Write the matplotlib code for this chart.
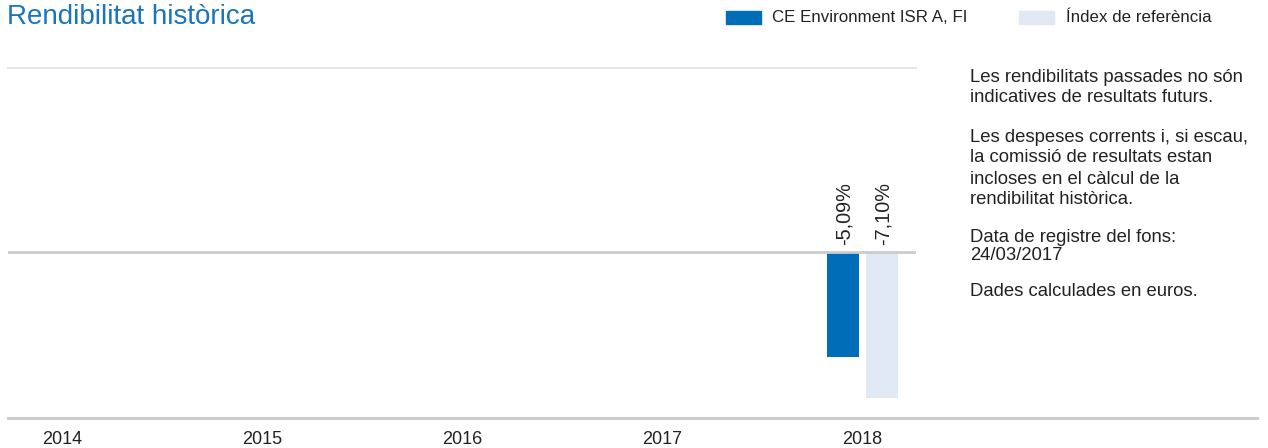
import matplotlib
matplotlib.use("Agg")
import matplotlib.pyplot as plt
from matplotlib.lines import Line2D
from matplotlib.patches import Rectangle
import numpy as np

plt.rcParams['font.family'] = ['Liberation Sans', 'DejaVu Sans']

years = ["2014", "2015", "2016", "2017", "2018"]
fund_name = "CE Environment ISR A, FI"
index_name = "Índex de referència"
fund_values = [None, None, None, None, -5.09]
index_values = [None, None, None, None, -7.10]
title = "Rendibilitat històrica"
notes = [
    ["Les rendibilitats passades no són", "indicatives de resultats futurs."],
    ["Les despeses corrents i, si escau,", "la comissió de resultats estan",
     "incloses en el càlcul de la", "rendibilitat històrica."],
    ["Data de registre del fons:", "24/03/2017"],
    ["Dades calculades en euros."],
]

BLUE = "#006DB8"
LIGHT = "#E0E8F3"
TEXT = "#222222"

W, H = 1268, 448
fig = plt.figure(figsize=(W / 100, H / 100), dpi=100)

def fx(px):
    return px / W

def fy(py):
    return 1 - py / H

# axes region in pixels
ax_l, ax_r, ax_t, ax_b = 8, 916, 68, 418
ax = fig.add_axes([fx(ax_l), fy(ax_b), fx(ax_r) - fx(ax_l), fy(ax_t) - fy(ax_b)])

zero_px = 252
scale = (357 - 252) / 5.09
ymax = (zero_px - ax_t) / scale
ymin = -(ax_b - zero_px) / scale
ax.set_ylim(ymin, ymax)
ax.set_xlim(-0.27, 4.27)

x = np.arange(len(years))
bw = 0.16
off = 0.0975
LBL = 14.3
for i in range(len(years)):
    if fund_values[i] is not None:
        ax.bar(x[i] - off, fund_values[i], width=bw, color=BLUE, zorder=2)
        ax.text(x[i] - off + 0.01, 0.35, f"{fund_values[i]:.2f}%".replace(".", ","),
                rotation=90, ha="center", va="bottom", fontsize=LBL, color=TEXT)
    if index_values[i] is not None:
        ax.bar(x[i] + off, index_values[i], width=bw, color=LIGHT, zorder=2)
        ax.text(x[i] + off + 0.01, 0.35, f"{index_values[i]:.2f}%".replace(".", ","),
                rotation=90, ha="center", va="bottom", fontsize=LBL, color=TEXT)

ax.axhline(0, color="#CCCCCC", lw=2, zorder=3)
for s in ["left", "right", "bottom"]:
    ax.spines[s].set_visible(False)
ax.spines["top"].set_color("#E6E6E6")
ax.spines["top"].set_linewidth(1.5)
ax.set_yticks([])
ax.set_xticks(x)
ax.set_xticklabels(years, fontsize=13, color=TEXT)
ax.tick_params(axis="x", length=0, pad=9)
ax.set_facecolor("none")

# bottom axis line across full width
fig.add_artist(Line2D([fx(8), fx(1257)], [fy(418), fy(418)], color="#CCCCCC", lw=2.2))

# title
fig.text(fx(7), fy(17), title, fontsize=20, color="#1A75BC", ha="left", va="center")

# legend
LEG = 12.2
fig.add_artist(Rectangle((fx(726), fy(24)), fx(761) - fx(726), fy(11) - fy(24),
                         transform=fig.transFigure, color=BLUE))
fig.text(fx(772), fy(18), fund_name, fontsize=LEG, color=TEXT, ha="left", va="center")
fig.add_artist(Rectangle((fx(1019), fy(24)), fx(1054) - fx(1019), fy(11) - fy(24),
                         transform=fig.transFigure, color=LIGHT))
fig.text(fx(1066), fy(18), index_name, fontsize=LEG, color=TEXT, ha="left", va="center")

# notes
NOTE = 13.3
line_y = [[78, 98], [138, 158, 179, 199], [237, 255], [291]]
for para, ys in zip(notes, line_y):
    for line, yy in zip(para, ys):
        fig.text(fx(970), fy(yy), line, fontsize=NOTE, color=TEXT, ha="left", va="center")

fig.savefig("out.png", dpi=100)
